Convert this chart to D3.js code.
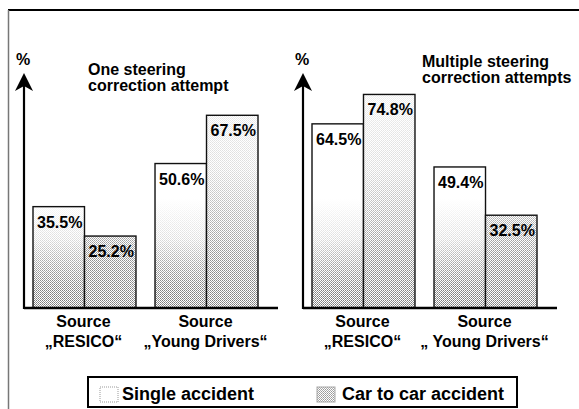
<!DOCTYPE html>
<html>
<head>
<meta charset="utf-8">
<script src="https://cdn.jsdelivr.net/npm/d3@7"></script>
<style>
  body { margin: 0; background: #fff; }
  svg { display: block; font-family: "Liberation Sans", Arial, sans-serif; }
</style>
</head>
<body>
<svg id="chart" width="579" height="409"></svg>
<script>
// chart values
const seriesNames = ["Single accident", "Car to car accident"];
const sources = ["RESICO", "Young Drivers"];

const oneSingle = [35.5, 50.6];
const oneCar = [25.2, 67.5];
const multiSingle = [64.5, 49.4];
const multiCar = [74.8, 32.5];

const oneLabels = [["Source", "\u201ERESICO\u201C"], ["Source", "\u201EYoung Drivers\u201C"]];
const multiLabels = [["Source", "\u201ERESICO\u201C"], ["Source", "\u201E Young Drivers\u201C"]];

const oneTitle = ["One steering", "correction attempt"];
const multiTitle = ["Multiple steering", "correction attempts"];

let svg = d3.select("#chart");
let defs = svg.append("defs");

// stipple pattern (grey pixels on white)
let pat = defs.append("pattern")
    .attr("id", "stipple")
    .attr("width", 2).attr("height", 2)
    .attr("patternUnits", "userSpaceOnUse");
pat.append("rect").attr("width", 1).attr("height", 1).attr("fill", "#555");
pat.append("rect").attr("x", 1).attr("y", 1).attr("width", 1).attr("height", 1).attr("fill", "#777");

// masks fading the stipple out towards the top
function fadeMask(id, stops)
{
    let grad = defs.append("linearGradient")
        .attr("id", id + "Grad")
        .attr("gradientUnits", "userSpaceOnUse")
        .attr("x1", 0).attr("x2", 0)
        .attr("y1", 90).attr("y2", 308);
    stops.forEach(s => grad.append("stop").attr("offset", s[0]).attr("stop-color", s[1]));
    defs.append("mask")
        .attr("id", id)
        .attr("maskUnits", "userSpaceOnUse")
        .attr("x", 0).attr("y", 0).attr("width", 579).attr("height", 409)
        .append("rect")
        .attr("width", 579).attr("height", 409)
        .attr("fill", "url(#" + id + "Grad)");
}
fadeMask("maskSingle", [[0, "#000"], [0.5, "#000"], [0.68, "#333"], [0.8, "#888"], [0.9, "#bbb"], [1, "#ccc"]]);
fadeMask("maskCar", [[0, "#1a1a1a"], [0.35, "#333"], [0.6, "#777"], [0.8, "#aaa"], [1, "#c4c4c4"]]);

let masks = ["maskSingle", "maskCar"];

let yScale = d3.scaleLinear()
    .domain([0, 100])
    .range([308, 22.5]);

function drawPanel(x0, single, car, labels, title, titlePos)
{
    let g = svg.append("g").attr("transform", "translate(" + x0 + ",0)");

    let xGroup = d3.scaleBand()
        .domain(sources)
        .range([9, 234])
        .paddingInner(0.156);

    let xSeries = d3.scaleBand()
        .domain(seriesNames)
        .range([0, xGroup.bandwidth()]);

    let rows = [];
    sources.forEach((s, i) => {
        rows.push({source: s, series: seriesNames[0], value: single[i], k: 0});
        rows.push({source: s, series: seriesNames[1], value: car[i], k: 1});
    });

    let bars = g.selectAll("g.bar")
        .data(rows)
        .enter().append("g")
        .attr("class", "bar");

    bars.append("rect")
        .attr("x", d => xGroup(d.source) + xSeries(d.series))
        .attr("y", d => yScale(d.value))
        .attr("width", xSeries.bandwidth())
        .attr("height", d => yScale(0) - yScale(d.value))
        .attr("fill", "#fff");

    bars.append("rect")
        .attr("x", d => xGroup(d.source) + xSeries(d.series))
        .attr("y", d => yScale(d.value))
        .attr("width", xSeries.bandwidth())
        .attr("height", d => yScale(0) - yScale(d.value))
        .attr("fill", "url(#stipple)")
        .attr("mask", d => "url(#" + masks[d.k] + ")");

    bars.append("rect")
        .attr("x", d => xGroup(d.source) + xSeries(d.series))
        .attr("y", d => yScale(d.value))
        .attr("width", xSeries.bandwidth())
        .attr("height", d => yScale(0) - yScale(d.value))
        .attr("fill", "none")
        .attr("stroke", "#111")
        .attr("stroke-width", 1.4);

    //value labels in the top left corner of every bar
    bars.append("text")
        .attr("x", d => xGroup(d.source) + xSeries(d.series) + 4)
        .attr("y", d => yScale(d.value) + 21)
        .attr("font-size", 16)
        .attr("font-weight", "bold")
        .attr("fill", "#000")
        .text(d => d.value.toFixed(1) + "%");

    //baseline
    g.append("line")
        .attr("x1", 0).attr("x2", 254)
        .attr("y1", yScale(0)).attr("y2", yScale(0))
        .attr("stroke", "#000")
        .attr("stroke-width", 2.6);

    //vertical axis with arrow head
    g.append("line")
        .attr("x1", 0).attr("x2", 0)
        .attr("y1", yScale(0) + 1).attr("y2", 86)
        .attr("stroke", "#000")
        .attr("stroke-width", 2.2);
    g.append("path")
        .attr("d", "M0,73 L9,91 L0,86 L-9,91 Z")
        .attr("fill", "#000");

    g.append("text")
        .attr("x", -1).attr("y", 65)
        .attr("text-anchor", "middle")
        .attr("font-size", 16)
        .attr("font-weight", "bold")
        .text("%");

    //category labels
    let cat = g.selectAll("text.cat")
        .data(sources)
        .enter().append("text")
        .attr("class", "cat")
        .attr("text-anchor", "middle")
        .attr("font-size", 16)
        .attr("font-weight", "bold");
    cat.append("tspan")
        .attr("x", d => xGroup(d) + xGroup.bandwidth() / 2 - 1)
        .attr("y", 327)
        .text((d, i) => labels[i][0]);
    cat.append("tspan")
        .attr("x", d => xGroup(d) + xGroup.bandwidth() / 2 - 1)
        .attr("y", 347)
        .text((d, i) => labels[i][1]);

    //panel title
    let t = g.append("text")
        .attr("font-size", 16)
        .attr("font-weight", "bold");
    title.forEach((line, i) => {
        t.append("tspan")
            .attr("x", titlePos[0])
            .attr("y", titlePos[1] + i * 16)
            .text(line);
    });
}

drawPanel(24, oneSingle, oneCar, oneLabels, oneTitle, [64, 75]);
drawPanel(303, multiSingle, multiCar, multiLabels, multiTitle, [119, 67]);

//frame around the figure
svg.append("line")
    .attr("x1", 8).attr("x2", 579)
    .attr("y1", 10).attr("y2", 10)
    .attr("stroke", "#000").attr("stroke-width", 2);
svg.append("line")
    .attr("x1", 8.5).attr("x2", 8.5)
    .attr("y1", 10).attr("y2", 409)
    .attr("stroke", "#777").attr("stroke-width", 1.5);

//legend
let legend = svg.append("g");
legend.append("rect")
    .attr("x", 88).attr("y", 377)
    .attr("width", 429).attr("height", 30)
    .attr("fill", "#fff")
    .attr("stroke", "#000")
    .attr("stroke-width", 2);

let legendX = [100, 317];
let items = legend.selectAll("g.item")
    .data(seriesNames)
    .enter().append("g")
    .attr("class", "item")
    .attr("transform", (d, i) => "translate(" + legendX[i] + ",387)");

items.append("rect")
    .attr("width", 18).attr("height", 15)
    .attr("fill", (d, i) => i === 0 ? "#fff" : "url(#stipple)")
    .attr("fill-opacity", (d, i) => i === 0 ? 1 : 0.6)
    .attr("stroke", (d, i) => i === 0 ? "#999" : "#aaa")
    .attr("stroke-width", 1)
    .attr("stroke-dasharray", (d, i) => i === 0 ? "1,1" : null);

items.append("text")
    .attr("x", (d, i) => i === 0 ? 22 : 25)
    .attr("y", 13)
    .attr("font-size", 18)
    .attr("font-weight", "bold")
    .text(d => d);
</script>
</body>
</html>
